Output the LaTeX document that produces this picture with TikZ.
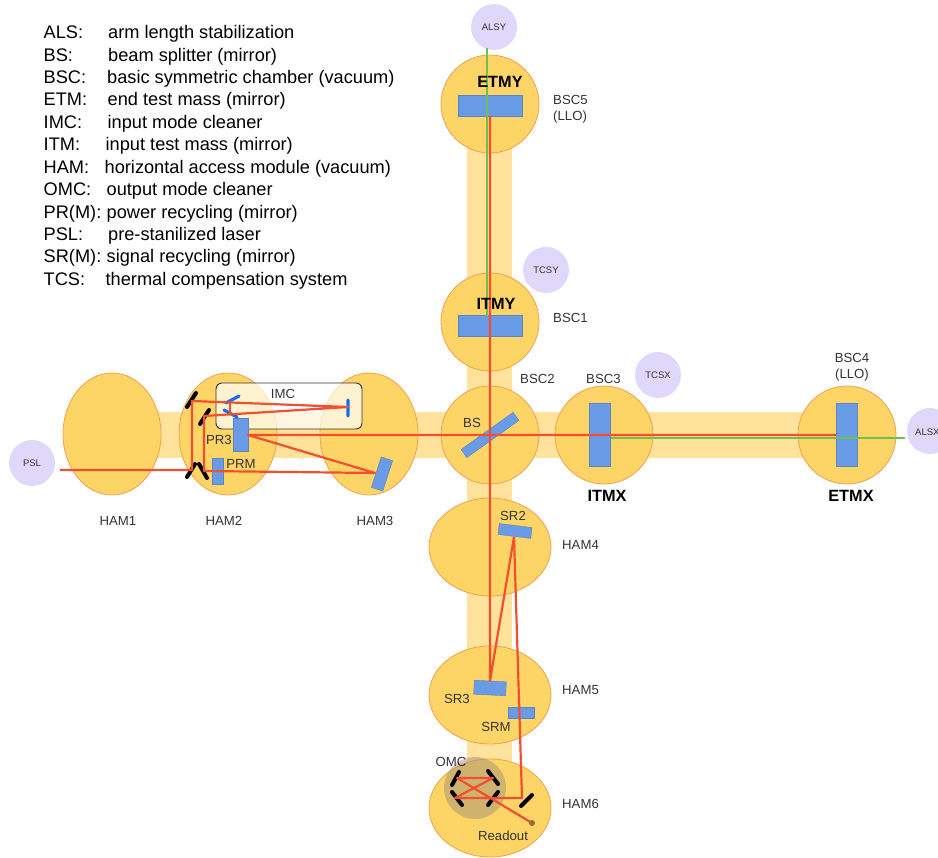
\documentclass[tikz,border=0pt]{standalone}
\usepackage{fontspec}
\setmainfont{Liberation Sans}
\usetikzlibrary{shapes.geometric}
\definecolor{tube}{HTML}{FFE29B}
\definecolor{cham}{HTML}{FDD567}
\definecolor{chamE}{HTML}{F0A04E}
\definecolor{mirr}{HTML}{6A9BE6}
\definecolor{lav}{HTML}{E0D8FB}
\definecolor{beam}{HTML}{F24E30}
\definecolor{gbeam}{HTML}{70BF50}
\definecolor{txt}{HTML}{333333}
\definecolor{omcfill}{HTML}{998877}
\definecolor{imcblue}{HTML}{1A6FE8}
\definecolor{rodot}{HTML}{9A6A35}
\tikzset{
  chamber/.style={draw=chamE,line width=.8pt,fill=cham,ellipse,inner sep=0pt,minimum width=#1},
  tubeband/.style={fill=tube,draw=none},
  optic/.style={fill=mirr,draw=mirr!85!black,line width=.4pt,inner sep=0pt,rectangle},
  aux/.style={circle,fill=lav,draw=none,minimum size=46pt,inner sep=0pt,font=\fontsize{9.5}{9.5}\selectfont,text=txt},
  lab/.style={font=\fontsize{13.2}{16}\selectfont,text=txt,inner sep=0pt,align=left},
  blab/.style={font=\fontsize{16.3}{16}\selectfont\bfseries,text=black,inner sep=0pt},
  legend/.style={font=\fontsize{18.2}{18}\selectfont,text=black,inner sep=0pt,anchor=base west},
  redbeam/.style={draw=beam,line width=2.2pt,line join=round},
  greenbeam/.style={draw=gbeam,line width=1.7pt},
  blackm/.style={draw=black,line width=4pt,line cap=round},
  bluem/.style={draw=imcblue,line width=3.2pt,line cap=round},
}
\begin{document}
\begin{tikzpicture}[x=1pt,y=-1pt]
\useasboundingbox (0,0) rectangle (938,858);
% tubes
\fill[tubeband] (112,412) rectangle (850,458);
\fill[tubeband] (467,100) rectangle (512,790);
% chambers
\node[chamber=98pt,minimum height=98pt] (etmy) at (490,104) {};
\node[chamber=98pt,minimum height=98pt] (itmy) at (490,322) {};
\node[chamber=98pt,minimum height=98pt] (bsc2) at (490,435) {};
\node[chamber=98pt,minimum height=98pt] (itmx) at (604,435) {};
\node[chamber=98pt,minimum height=98pt] (etmx) at (847,435) {};
\node[chamber=98pt,minimum height=122pt] (ham1) at (112,434) {};
\node[chamber=98pt,minimum height=122pt] (ham2) at (228,434) {};
\node[chamber=98pt,minimum height=122pt] (ham3) at (369,434) {};
\node[chamber=122pt,minimum height=98pt] (ham4) at (490,547) {};
\node[chamber=122pt,minimum height=98pt] (ham5) at (490,695) {};
\node[chamber=122pt,minimum height=98pt] (ham6) at (490,808) {};
% IMC box
\node[draw=black!80,line width=.9pt,fill=white,fill opacity=.7,draw opacity=1,rounded corners=6pt,minimum width=146pt,minimum height=46pt,inner sep=0pt] (imc) at (289,406) {};
\node[lab] (imclab) at (283,394) {IMC};
% aux circles
\node[aux] (alsy) at (494,27) {ALSY};
\node[aux] (tcsy) at (546,270) {TCSY};
\node[aux] (tcsx) at (658,375) {TCSX};
\node[aux] (psl) at (32,463) {PSL};
\node[aux] (alsx) at (930,431) {};
\node[font=\fontsize{9.5}{9.5}\selectfont,text=txt,inner sep=0pt,anchor=west] (alsxlab) at (915,432) {ALSX};
% OMC blob
\node[circle,fill=omcfill,fill opacity=.45,minimum size=62pt,inner sep=0pt] (omc) at (475,788) {};
% optics
\node[optic,minimum width=64pt,minimum height=21pt] (metmy) at (490,105.5) {};
\node[optic,minimum width=64pt,minimum height=21pt] (mitmy) at (490,325.5) {};
\node[optic,minimum width=21pt,minimum height=63pt] (mitmx) at (599.5,434.5) {};
\node[optic,minimum width=21pt,minimum height=63pt] (metmx) at (846.5,434.5) {};
\node[optic,minimum width=64pt,minimum height=10pt,rotate=35.5] (mbs) at (490,435) {};
\node[optic,minimum width=33pt,minimum height=11pt,rotate=-7] (msr2) at (515,531) {};
\node[optic,minimum width=32pt,minimum height=14pt,rotate=-3] (msr3) at (490,688) {};
\node[optic,minimum width=26pt,minimum height=11pt] (msrm) at (521,712.5) {};
\node[optic,minimum width=15pt,minimum height=33pt] (mpr3) at (240.5,434.5) {};
\node[optic,minimum width=11pt,minimum height=26pt] (mprm) at (217.5,471) {};
\node[optic,minimum width=12pt,minimum height=32pt,rotate=-18] (mham3) at (382,474) {};
% black mirrors
\coordinate (a1) at (196,393); \coordinate (a2) at (187,407);
\coordinate (b1) at (209,410); \coordinate (b2) at (200,424);
\coordinate (c1) at (195,464); \coordinate (c2) at (187,477);
\coordinate (d1) at (199,464); \coordinate (d2) at (207,478);
\draw[blackm] (a1)--(a2) (b1)--(b2) (c1)--(c2) (d1)--(d2);
\coordinate (e1) at (459,772); \coordinate (e2) at (452,785);
\coordinate (f1) at (488,771); \coordinate (f2) at (498,784);
\coordinate (g1) at (452,792); \coordinate (g2) at (462,805);
\coordinate (h1) at (498,792); \coordinate (h2) at (488,805);
\coordinate (k1) at (532,795); \coordinate (k2) at (521,806);
\draw[blackm] (e1)--(e2) (f1)--(f2) (g1)--(g2) (h1)--(h2) (k1)--(k2);
% IMC mirrors
\coordinate (i1) at (226,403); \coordinate (i2) at (239,396);
\coordinate (j1) at (224,410); \coordinate (j2) at (237,417);
\coordinate (l1) at (348,400); \coordinate (l2) at (348,416);
\draw[bluem] (i1)--(i2) (j1)--(j2) (l1)--(l2);
% beams
\coordinate (pslout) at (60,470);
\coordinate (p1) at (192,470);
\coordinate (p2) at (192,401);
\coordinate (p3) at (348,407);
\coordinate (p4) at (230,402);
\coordinate (p5) at (230,415);
\coordinate (p6) at (204,416);
\coordinate (p7) at (204,471);
\coordinate (p8) at (375,473);
\coordinate (p9) at (248,435);
\coordinate (p10) at (836,435);
\draw[redbeam] (pslout)--(p1)--(p2)--(p3)--(p6)--(p7)--(p8)--(p9)--(p10);
\draw[redbeam,line width=1.6pt] (p4)--(p5);
\coordinate (v1) at (490,116);
\coordinate (v2) at (490,681);
\coordinate (s2) at (514,537);
\coordinate (s3) at (522,798);
\coordinate (s5) at (455,798);
\coordinate (s6) at (493,778);
\coordinate (s7) at (457,778);
\coordinate (ro) at (532,823);
\draw[redbeam] (v1)--(v2)--(s2);
\draw[redbeam] (s2)--(s3)--(s5)--(s6)--(s7)--(ro);
\fill[rodot] (ro) circle (3pt);
\draw[greenbeam] (487,48) -- (487,316);
\draw[greenbeam] (611,438) -- (905,438);
% labels
\node[lab,anchor=north west] (lbsc5) at (553,95) {BSC5\\(LLO)};
\node[lab,anchor=west] (lbsc1) at (553,318) {BSC1};
\node[lab,anchor=west] (lbsc2) at (520,379) {BSC2};
\node[lab,anchor=west] (lbsc3) at (586,379) {BSC3};
\node[lab,align=center] (lbsc4) at (852,367) {BSC4\\(LLO)};
\node[lab] (lham1) at (118,521) {HAM1};
\node[lab] (lham2) at (224,521) {HAM2};
\node[lab] (lham3) at (375,521) {HAM3};
\node[lab,anchor=west] (lham4) at (562,545) {HAM4};
\node[lab,anchor=west] (lham5) at (562,690) {HAM5};
\node[lab,anchor=west] (lham6) at (562,804) {HAM6};
\node[lab] (lbs) at (472,423) {BS};
\node[lab] (lsr2) at (513,516) {SR2};
\node[lab] (lsr3) at (457,699) {SR3};
\node[lab] (lsrm) at (496,727) {SRM};
\node[lab] (lomc) at (451,762) {OMC};
\node[lab] (lro) at (503,836) {Readout};
\node[lab] (lpr3) at (219,440) {PR3};
\node[lab] (lprm) at (241,464) {PRM};
\node[blab] (letmy) at (500,82) {ETMY};
\node[blab] (litmy) at (496,304) {ITMY};
\node[blab] (litmx) at (607,496) {ITMX};
\node[blab] (letmx) at (851,496) {ETMX};
% legend
\foreach \n/\y/\a/\dx/\d in {
 1/39/ALS:/64.5/arm length stabilization,
 2/61.5/BS:/64.5/beam splitter (mirror),
 3/84/BSC:/63.5/basic symmetric chamber (vacuum),
 4/106/ETM:/64/end test mass (mirror),
 5/129/IMC:/64/input mode cleaner,
 6/151/ITM:/62/input test mass (mirror),
 7/174/HAM:/61/horizontal access module (vacuum),
 8/196/OMC:/63/output mode cleaner,
 9/219/PR(M):/63/power recycling (mirror),
 10/241/PSL:/64.5/pre-stanilized laser,
 11/263/SR(M):/63/signal recycling (mirror),
 12/286/TCS:/62/thermal compensation system}
 {\node[legend] (leg\n) at (43.5,\y) {\makebox[\dx pt][l]{\a}\d};}
\end{tikzpicture}
\end{document}
